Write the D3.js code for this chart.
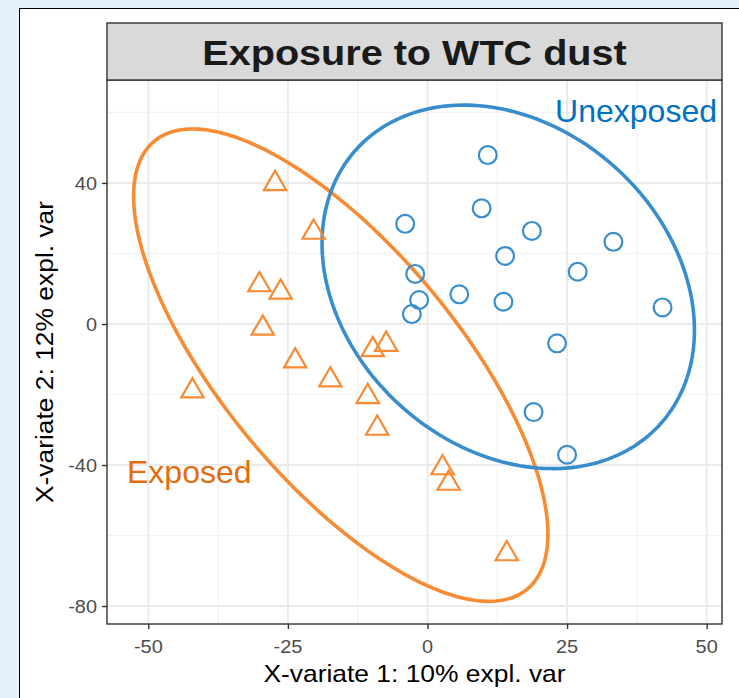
<!DOCTYPE html>
<html>
<head>
<meta charset="utf-8">
<script src="https://cdn.jsdelivr.net/npm/d3@7"></script>
<style>
  html, body { margin: 0; padding: 0; background: #e6f2fb; }
  svg { display: block; font-family: "Liberation Sans", Arial, Helvetica, sans-serif; }
</style>
</head>
<body>
<svg id="chart" width="739" height="698"></svg>
<script>
// Sample scores on the first two X-variates
const exposedX   = [-27.3, -20.4, -30.1, -26.3, -29.5, -23.7, -42.1, -17.4, -10.7, -9.0, -9.8, -7.4, 2.7, 3.8, 14.2];
const exposedY   = [39.8, 26.0, 11.1, 9.0, -1.2, -10.5, -19.0, -15.9, -20.6, -29.6, -7.3, -5.8, -40.8, -45.2, -65.2];
const unexposedX = [10.8, 9.7, -4.0, 18.7, 13.9, 33.3, 26.9, -2.2, 5.7, -1.5, 13.6, -2.8, 42.1, 23.2, 19.0, 25.0];
const unexposedY = [47.9, 32.8, 28.4, 26.4, 19.3, 23.3, 14.8, 14.2, 8.4, 6.8, 6.3, 2.8, 4.7, -5.5, -25.0, -37.1];

const groupNames  = ["Exposed", "Unexposed"];
const groupColors = ["#F68B33", "#388ECC"];
const labelColors = ["#E46C0A", "#0070C0"];

const xTicks = [-50, -25, 0, 25, 50];
const yTicks = [-80, -40, 0, 40];
const xMinor = [-37.5, -12.5, 12.5, 37.5];
const yMinor = [-60, -20, 20, 60];

const chartTitle = "Exposure to WTC dust";
const xTitle = "X-variate 1: 10% expl. var";
const yTitle = "X-variate 2: 12% expl. var";
const ellipseLevel = 0.95;

// ---- layout
const svg = d3.select("#chart");
const panel = { left: 107, right: 722, top: 80, bottom: 624 };
const strip = { top: 23, bottom: 80 };

const x = d3.scaleLinear().domain([-57.4, 52.75]).range([panel.left, panel.right]);
const y = d3.scaleLinear().domain([-85.1, 69.2]).range([panel.bottom, panel.top]);

// white card
svg.append("rect").attr("x", 19.5).attr("y", 8.5).attr("width", 760).attr("height", 720)
  .attr("fill", "#fff").attr("stroke", "#000").attr("stroke-width", 1);

// text helper; sx widens glyphs along the reading direction
function stretchedText(g, px, py, txt, size, sx, anchor, opts = {}) {
  return g.append("text")
    .attr("transform", `translate(${px},${py})` + (opts.rotate ? ` rotate(${opts.rotate})` : "") + ` scale(${sx},1)`)
    .attr("text-anchor", anchor)
    .attr("font-size", size)
    .attr("fill", opts.fill || "#000")
    .attr("font-weight", opts.weight || "normal")
    .text(txt);
}

// panel background + grid
svg.append("rect").attr("x", panel.left).attr("y", panel.top)
  .attr("width", panel.right - panel.left).attr("height", panel.bottom - panel.top).attr("fill", "#fff");

const grid = svg.append("g");
grid.selectAll(".xminor").data(xMinor).join("line")
  .attr("x1", d => x(d)).attr("x2", d => x(d)).attr("y1", panel.top).attr("y2", panel.bottom)
  .attr("stroke", "#f2f2f2").attr("stroke-width", 1.2);
grid.selectAll(".yminor").data(yMinor).join("line")
  .attr("y1", d => y(d)).attr("y2", d => y(d)).attr("x1", panel.left).attr("x2", panel.right)
  .attr("stroke", "#f2f2f2").attr("stroke-width", 1.2);
grid.selectAll(".xmajor").data(xTicks).join("line")
  .attr("x1", d => x(d)).attr("x2", d => x(d)).attr("y1", panel.top).attr("y2", panel.bottom)
  .attr("stroke", "#ebebeb").attr("stroke-width", 2);
grid.selectAll(".ymajor").data(yTicks).join("line")
  .attr("y1", d => y(d)).attr("y2", d => y(d)).attr("x1", panel.left).attr("x2", panel.right)
  .attr("stroke", "#ebebeb").attr("stroke-width", 2);

// confidence ellipse from the sample covariance (chi-square, 2 df)
function ellipsePoints(xs, ys, level) {
  const n = xs.length;
  const mx = d3.mean(xs), my = d3.mean(ys);
  let sxx = 0, syy = 0, sxy = 0;
  for (let i = 0; i < n; i++) {
    sxx += (xs[i] - mx) ** 2; syy += (ys[i] - my) ** 2; sxy += (xs[i] - mx) * (ys[i] - my);
  }
  sxx /= n - 1; syy /= n - 1; sxy /= n - 1;
  const t = Math.sqrt(-2 * Math.log(1 - level));
  // Cholesky factor of the covariance
  const l11 = Math.sqrt(sxx), l21 = sxy / l11, l22 = Math.sqrt(syy - l21 * l21);
  return d3.range(0, 201).map(i => {
    const a = 2 * Math.PI * i / 200;
    const u = Math.cos(a), v = Math.sin(a);
    return [mx + t * l11 * u, my + t * (l21 * u + l22 * v)];
  });
}

const plot = svg.append("g");
const line = d3.line().x(d => x(d[0])).y(d => y(d[1])).curve(d3.curveLinearClosed);

const groups = [
  { xs: exposedX, ys: exposedY, color: groupColors[0], shape: "triangle" },
  { xs: unexposedX, ys: unexposedY, color: groupColors[1], shape: "circle" }
];

groups.forEach(g => {
  plot.append("path").attr("d", line(ellipsePoints(g.xs, g.ys, ellipseLevel)))
    .attr("fill", "none").attr("stroke", g.color).attr("stroke-width", 3.6);
});

groups.forEach(g => {
  const pts = g.xs.map((v, i) => [v, g.ys[i]]);
  if (g.shape === "circle") {
    plot.selectAll(null).data(pts).join("circle")
      .attr("cx", d => x(d[0])).attr("cy", d => y(d[1])).attr("r", 8.9)
      .attr("fill", "none").attr("stroke", g.color).attr("stroke-width", 2.2);
  } else {
    const tri = d3.symbol().type(d3.symbolTriangle).size(215);
    plot.selectAll(null).data(pts).join("path")
      .attr("transform", d => `translate(${x(d[0])},${y(d[1])})`)
      .attr("d", tri())
      .attr("fill", "none").attr("stroke", g.color).attr("stroke-width", 2.2)
      .attr("stroke-linejoin", "miter");
  }
});

// panel border
svg.append("rect").attr("x", panel.left).attr("y", panel.top)
  .attr("width", panel.right - panel.left).attr("height", panel.bottom - panel.top)
  .attr("fill", "none").attr("stroke", "#333").attr("stroke-width", 1.4);

// strip
svg.append("rect").attr("x", panel.left).attr("y", strip.top)
  .attr("width", panel.right - panel.left).attr("height", strip.bottom - strip.top)
  .attr("fill", "#d9d9d9").attr("stroke", "#333").attr("stroke-width", 1.4);
stretchedText(svg, (panel.left + panel.right) / 2, 65, chartTitle, 36, 1.1, "middle", { weight: "bold", fill: "#1a1a1a" });

// axes
const xAxis = svg.append("g").attr("transform", `translate(0,${panel.bottom})`)
  .call(d3.axisBottom(x).tickValues(xTicks).tickSize(5).tickFormat(""));
const yAxis = svg.append("g").attr("transform", `translate(${panel.left},0)`)
  .call(d3.axisLeft(y).tickValues(yTicks).tickSize(5).tickFormat(""));
[xAxis, yAxis].forEach(a => {
  a.select(".domain").remove();
  a.selectAll(".tick line").attr("stroke", "#333").attr("stroke-width", 1.4);
});

xTicks.forEach(t => stretchedText(svg, x(t), 653, String(t), 19, 1.05, "middle", { fill: "#4d4d4d" }));
yTicks.forEach(t => stretchedText(svg, 97, y(t) + 7, String(t), 19, 1.05, "end", { fill: "#4d4d4d" }));

stretchedText(svg, (panel.left + panel.right) / 2, 682, xTitle, 24, 1.1, "middle", { fill: "#000" });
stretchedText(svg, 53, (panel.top + panel.bottom) / 2, yTitle, 24, 1.1, "middle", { fill: "#000", rotate: -90 });

// group labels
svg.append("text").attr("x", 717).attr("y", 122).attr("text-anchor", "end")
  .attr("font-size", 32).attr("fill", labelColors[1]).text(groupNames[1]);
svg.append("text").attr("x", 127).attr("y", 483).attr("text-anchor", "start")
  .attr("font-size", 32).attr("fill", labelColors[0]).text(groupNames[0]);
</script>
</body>
</html>
